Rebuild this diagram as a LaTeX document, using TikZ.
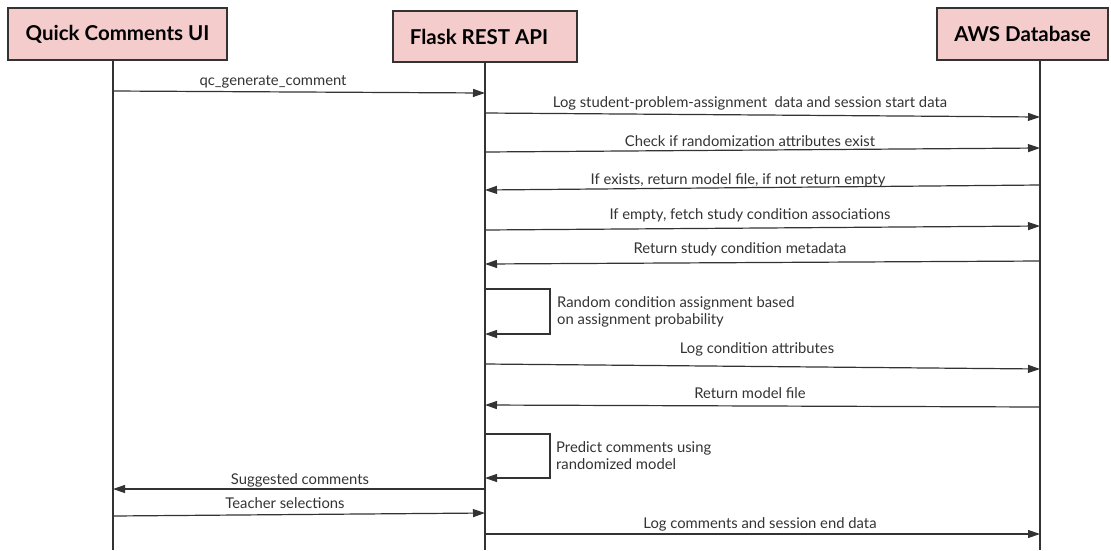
\documentclass[tikz,border=0pt]{standalone}
\usepackage{fontspec}
\setmainfont{Lato}
\usetikzlibrary{arrows.meta}
\definecolor{headpink}{HTML}{F4CCCC}
\definecolor{inkgray}{HTML}{333333}

\begin{document}
\begin{tikzpicture}[x=1pt,y=-1pt,
        head/.style={draw=inkgray,line width=1.2pt,fill=headpink,inner sep=0pt,
            minimum height=52pt,font=\fontsize{20.5}{22}\selectfont\bfseries},
        life/.style={draw=inkgray,line width=1.2pt},
        msg/.style={draw=inkgray,line width=1.2pt,-{Triangle[length=12pt,width=8pt]}},
        lbl/.style={text=inkgray,inner sep=0pt,font=\fontsize{14.8}{17}\selectfont},
        note/.style={lbl,align=left,anchor=west}]

        \useasboundingbox (0,0) rectangle (1111,550);

        % participants
        \node[head,minimum width=219pt] (ui) at (117.5,34) {Quick Comments UI};
        \node[head,minimum width=184pt,minimum height=51pt] (flask) at (485,36.5) {\hspace*{-12pt}Flask REST API};
        \node[head,minimum width=171pt] (aws) at (1022.5,34) {AWS Database};

        % lifelines
        \coordinate (uiL) at (113,60);
        \coordinate (flL) at (485,62);
        \coordinate (awL) at (1040,60);
        \draw[life] (uiL) -- (uiL |- 0,550);
        \draw[life] (flL) -- (flL |- 0,550);
        \draw[life] (awL) -- (awL |- 0,550);

        % messages
        \draw[msg] (uiL |- 0,91) -- (flL |- 0,93);
        \node[lbl] (m1) at (273,82) {qc\_generate\_comment};

        \draw[msg] (flL |- 0,113) -- (awL |- 0,117);
        \node[lbl] (m2) at (750,103) {Log student-problem-assignment\ \ data and session start data};

        \draw[msg] (flL |- 0,152) -- (awL |- 0,148);
        \node[lbl] (m3) at (750,141) {Check if randomization attributes exist};

        \draw[msg] (awL |- 0,185) -- (flL |- 0,190);
        \node[lbl] (m4) at (738,180) {If exists, return model file, if not return empty};

        \draw[msg] (flL |- 0,230) -- (awL |- 0,226);
        \node[lbl] (m5) at (750,215) {If empty, fetch study condition associations};

        \draw[msg] (awL |- 0,261) -- (flL |- 0,264);
        \node[lbl] (m6) at (740,249) {Return study condition metadata};

        \draw[msg] (flL |- 0,289) -- ++(65,0) -- ++(0,45) -- (flL |- 0,334);
        \node[note] (m7) at (557,312) {Random condition assignment based\\on assignment probability};

        \draw[msg] (flL |- 0,364) -- (awL |- 0,369);
        \node[lbl] (m8) at (757,349) {Log condition attributes};

        \draw[msg] (awL |- 0,407) -- (flL |- 0,405);
        \node[lbl] (m9) at (750,393) {Return model file};

        \draw[msg] (flL |- 0,434) -- ++(65,0) -- ++(0,44) -- (flL |- 0,478);
        \node[note] (m10) at (556,456) {Predict comments using\\randomized model};

        \draw[msg] (flL |- 0,489) -- (uiL |- 0,489);
        \node[lbl] (m11) at (300,480) {Suggested comments};

        \draw[msg] (uiL |- 0,516) -- (flL |- 0,513);
        \node[lbl] (m12) at (285,503) {Teacher selections};

        \draw[msg] (flL |- 0,534) -- (awL |- 0,534);
        \node[lbl] (m13) at (760,524) {Log comments and session end data};
    \end{tikzpicture}
\end{document}
